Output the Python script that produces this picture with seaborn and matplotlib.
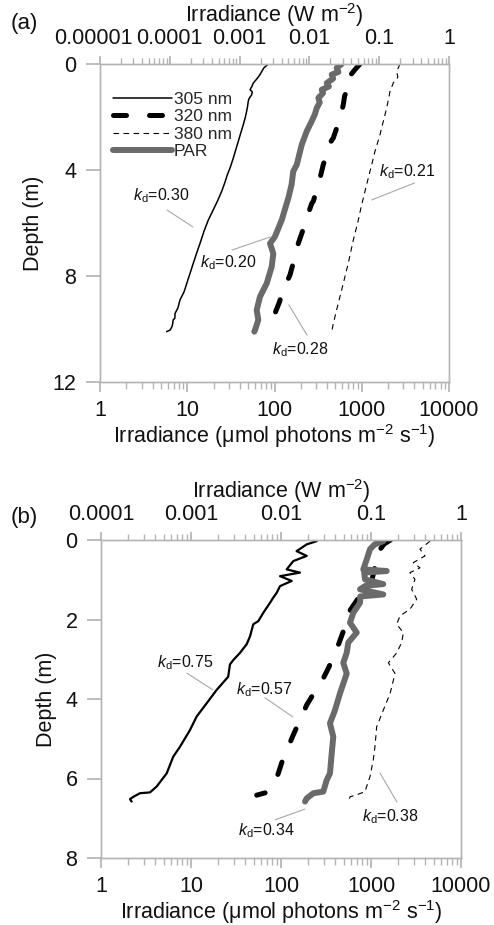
import matplotlib
matplotlib.use("Agg")
import matplotlib.pyplot as plt
import matplotlib.ticker as mticker
import matplotlib.transforms as mtransforms
import seaborn as sns

# ---------------- data ----------------
# Panel (a) : UV in W m-2 (top axis), PAR in umol photons m-2 s-1 (bottom axis)
a305_depth = [0, 0.15, 0.4, 0.55, 0.72, 0.85, 0.97, 1.05, 1.16, 1.3, 1.41, 1.6, 1.79, 2.0,
              2.29, 2.6, 2.92, 3.2, 3.55, 3.9, 4.18, 4.5, 4.8, 5.13, 5.5, 5.89, 6.3, 6.77,
              7.1, 7.52, 7.9, 8.28, 8.6, 8.9, 9.2, 9.41, 9.6, 9.65, 9.79, 9.9, 10.04, 10.1]
a305_irr = [0.00258, 0.00222, 0.00196, 0.00178, 0.00157, 0.00150, 0.00141, 0.00152, 0.00149,
            0.00137, 0.00133, 0.00130, 0.00126, 0.00121, 0.00113, 0.00104, 0.000957, 0.000890,
            0.000812, 0.000735, 0.000667, 0.000610, 0.000555, 0.000490, 0.000420, 0.000356,
            0.000310, 0.000271, 0.000245, 0.000217, 0.000195, 0.000175, 0.000160, 0.000140,
            0.000131, 0.000119, 0.000118, 0.000112, 0.000110, 0.000108, 0.000101, 0.0000903]

a320_depth = [0, 0.21, 0.45, 0.65, 0.9, 1.2, 1.53, 1.79, 2.3, 2.79, 2.98, 3.4, 3.8, 4.3, 4.75,
              5.18, 5.26, 5.82, 6.3, 6.77, 7.27, 7.96, 8.53, 9.0, 9.41, 9.96]
a320_irr = [0.0531, 0.0450, 0.0380, 0.0342, 0.0360, 0.0320, 0.0306, 0.0290, 0.0255, 0.0220,
            0.0197, 0.0178, 0.0158, 0.0142, 0.0127, 0.01138, 0.0108, 0.00914, 0.0080, 0.00693,
            0.00622, 0.00527, 0.00423, 0.0037, 0.00321, 0.00273]

a380_depth = [0, 0.28, 0.5, 0.7, 1.03, 1.66, 2.16, 2.67, 3.29, 3.8, 4.3, 5.06, 5.5, 5.89, 6.64,
              7.52, 8.28, 9.03, 9.79, 10.1]
a380_irr = [0.1986, 0.178, 0.185, 0.160, 0.143, 0.128, 0.1146, 0.1026, 0.0871, 0.0781, 0.0698,
            0.0592, 0.054, 0.0502, 0.0426, 0.0360, 0.0306, 0.0259, 0.0220, 0.0209]

aPAR_depth = [0, 0.15, 0.3, 0.4, 0.55, 0.72, 0.85, 0.97, 1.1, 1.28, 1.45, 1.66, 1.9, 2.16, 2.54,
              3.05, 3.55, 3.8, 4.05, 4.55, 5.06, 5.26, 5.89, 6.52, 6.77, 7.15, 7.65, 8.28,
              8.78, 9.28, 9.66, 10.04, 10.1]
aPAR_irr = [589, 516, 540, 453, 470, 397, 420, 348, 360, 318, 330, 305, 290, 267, 234,
            205, 188, 180, 164, 157, 144, 138, 121, 101, 88.8, 96.9, 92.9, 81.4,
            68.2, 62.5, 65.2, 59.8, 58.7]

# Panel (b)
b305_depth = [0.03, 0.11, 0.28, 0.4, 0.53, 0.74, 0.82, 0.91, 1.03, 1.16, 1.33, 1.45, 1.58, 1.83,
              2.04, 2.12, 2.42, 2.62, 2.84, 3.02, 3.13, 3.44, 3.77, 4.11, 4.44, 4.78, 5.2, 5.45,
              5.87, 6.2, 6.35, 6.37, 6.46, 6.52, 6.58]
b305_irr = [0.0249, 0.0193, 0.0149, 0.0193, 0.0137, 0.01156, 0.01625, 0.00975, 0.01315, 0.00975,
            0.00895, 0.0082, 0.00755, 0.00636, 0.0056, 0.00492, 0.00453, 0.00416, 0.0035,
            0.00295, 0.00271, 0.00259, 0.00193, 0.00149, 0.001156, 0.000975, 0.000755,
            0.000635, 0.000537, 0.000416, 0.00035, 0.000271, 0.000229, 0.00021, 0.000219]

b320_depth = [0.0, 0.1, 0.3, 0.5, 0.7, 1.0, 1.4, 1.77, 2.05, 2.3, 2.6, 2.94, 3.2, 3.48, 3.8,
              4.15, 4.5, 4.9, 5.25, 5.6, 5.87, 6.1, 6.35, 6.42]
b320_irr = [0.165, 0.14, 0.12, 0.126, 0.11, 0.1026, 0.0755, 0.0585, 0.054, 0.0492, 0.044,
            0.0381, 0.034, 0.0295, 0.024, 0.0193, 0.0165, 0.0137, 0.0118, 0.0102, 0.00933,
            0.0085, 0.00693, 0.00537]

b380_depth = [0.03, 0.23, 0.4, 0.57, 0.7, 0.82, 0.99, 1.24, 1.49, 1.74, 1.91, 2.12, 2.33, 2.58,
              2.84, 3.09, 3.36, 3.86, 4.28, 4.7, 5.2, 5.53, 5.95, 6.2, 6.33, 6.41, 6.46, 6.58]
b380_irr = [0.453, 0.350, 0.398, 0.295, 0.350, 0.271, 0.308, 0.283, 0.322, 0.271, 0.210, 0.193,
            0.229, 0.219, 0.193, 0.156, 0.185, 0.163, 0.137, 0.1156, 0.1107, 0.106, 0.0975,
            0.0895, 0.0857, 0.0694, 0.0585, 0.056]

bPAR_depth = [0.03, 0.11, 0.23, 0.49, 0.74, 0.78, 0.82, 0.99, 1.11, 1.15, 1.24, 1.37, 1.42, 1.58,
              1.83, 2.08, 2.33, 2.58, 2.84, 3.09, 3.36, 3.86, 4.28, 4.61, 4.95, 5.37, 5.87,
              6.04, 6.33, 6.37, 6.5, 6.58]
bPAR_irr = [1370, 1100, 975, 896, 821, 1494, 840, 858, 1370, 870, 755, 1370, 760, 755,
            636, 584, 694, 559, 537, 492, 537, 452, 398, 350, 381, 366, 350,
            322, 295, 229, 193, 185]

series_labels = ["305 nm", "320 nm", "380 nm", "PAR"]

top_ticks_a = [0.00001, 0.0001, 0.001, 0.01, 0.1, 1]
top_labels_a = ["0.00001", "0.0001", "0.001", "0.01", "0.1", "1"]
top_ticks_b = [0.0001, 0.001, 0.01, 0.1, 1]
top_labels_b = ["0.0001", "0.001", "0.01", "0.1", "1"]
bottom_ticks = [1, 10, 100, 1000, 10000]
bottom_labels = ["1", "10", "100", "1000", "10000"]
depth_ticks_a = [0, 4, 8, 12]
depth_ticks_b = [0, 2, 4, 6, 8]

kd_a = ["0.30", "0.20", "0.21", "0.28"]
kd_b = ["0.75", "0.57", "0.34", "0.38"]

# ---------------- style ----------------
sns.set_theme(style="white")
plt.rcParams["font.family"] = ["Liberation Sans", "DejaVu Sans"]
plt.rcParams["mathtext.fontset"] = "custom"
plt.rcParams["mathtext.rm"] = "Liberation Sans"
plt.rcParams["mathtext.it"] = "Liberation Sans:italic"
plt.rcParams["mathtext.bf"] = "Liberation Sans:bold"

GRAY = "#b4b4b4"
TXT = "#111111"
PARC = "#6a6a6a"
FS = 15.5

W, H = 494, 925
fig = plt.figure(figsize=(W / 100, H / 100), dpi=100)


def rect(l, r, t, b):
    return [l / W, 1 - b / H, (r - l) / W, (b - t) / H]


def panel(rc, uvlim, uvticks, uvlabels, dmax, dticks, data, lw305):
    ax_uv = fig.add_axes(rc)
    ax_par = ax_uv.twiny()
    (d305, v305), (d320, v320), (d380, v380), (dpar, vpar) = data

    sns.lineplot(x=v305, y=d305, sort=False, estimator=None, ax=ax_uv,
                 color="black", lw=lw305)
    h305 = ax_uv.lines[-1]
    sns.lineplot(x=v320, y=d320, sort=False, estimator=None, ax=ax_uv,
                 color="black", lw=3.6, linestyle=(0, (2.6, 4.6)))
    h320 = ax_uv.lines[-1]
    h320.set_dash_capstyle("round")
    sns.lineplot(x=v380, y=d380, sort=False, estimator=None, ax=ax_uv,
                 color="black", lw=0.8, linestyle=(0, (5, 4)))
    h380 = ax_uv.lines[-1]
    sns.lineplot(x=vpar, y=dpar, sort=False, estimator=None, ax=ax_par,
                 color=PARC, lw=4.3)
    hpar = ax_par.lines[-1]
    hpar.set_solid_capstyle("round")
    hpar.set_solid_joinstyle("round")

    for ax in (ax_uv, ax_par):
        ax.set_xscale("log")
        if ax.get_legend() is not None:
            ax.get_legend().remove()
        for sp in ax.spines.values():
            sp.set_color(GRAY)
            sp.set_linewidth(1.0)
            sp.set_visible(True)

    ax_uv.set_xlim(*uvlim)
    ax_par.set_xlim(1, 10000)
    ax_uv.set_ylim(dmax, 0)

    # top axis (W m-2)
    ax_uv.xaxis.tick_top()
    ax_uv.xaxis.set_label_position("top")
    ax_uv.xaxis.set_major_locator(mticker.FixedLocator(uvticks))
    ax_uv.xaxis.set_major_formatter(mticker.FixedFormatter(uvlabels))
    ax_uv.xaxis.set_minor_locator(mticker.LogLocator(base=10, subs=range(2, 10), numticks=50))
    ax_uv.xaxis.set_minor_formatter(mticker.NullFormatter())
    ax_uv.tick_params(axis="x", which="major", top=True, bottom=False, direction="out",
                      length=6, color=GRAY, labelsize=FS, labelcolor=TXT, pad=5)
    ax_uv.tick_params(axis="x", which="minor", top=True, bottom=False, direction="out",
                      length=4, color=GRAY)
    ax_uv.set_xlabel("Irradiance (W m$^{-2}$)", fontsize=FS, color=TXT, labelpad=4)

    # bottom axis (umol photons)
    ax_par.xaxis.tick_bottom()
    ax_par.xaxis.set_label_position("bottom")
    ax_par.xaxis.set_major_locator(mticker.FixedLocator(bottom_ticks))
    ax_par.xaxis.set_major_formatter(mticker.FixedFormatter(bottom_labels))
    ax_par.xaxis.set_minor_locator(mticker.LogLocator(base=10, subs=range(2, 10), numticks=50))
    ax_par.xaxis.set_minor_formatter(mticker.NullFormatter())
    ax_par.tick_params(axis="x", which="major", bottom=True, top=False, direction="out",
                       length=7, color=GRAY, labelsize=FS, labelcolor=TXT, pad=6)
    ax_par.tick_params(axis="x", which="minor", bottom=True, top=False, direction="out",
                       length=5, color=GRAY)
    ax_par.set_xlabel("Irradiance (\u03bcmol photons m$^{-2}$ s$^{-1}$)", fontsize=FS,
                      color=TXT, labelpad=1)

    # depth axis
    ax_uv.set_yticks(dticks)
    ax_uv.set_yticklabels([str(t) for t in dticks])
    ax_uv.tick_params(axis="y", which="major", left=True, right=False, direction="out",
                      length=10, color=GRAY, labelsize=FS, labelcolor=TXT, pad=7)
    ax_uv.set_ylabel("Depth (m)", fontsize=FS, color=TXT)
    ax_par.set_ylim(dmax, 0)
    return ax_uv, ax_par, [h305, h320, h380, hpar]


axA_uv, axA_par, handles = panel(rect(100, 449, 64, 382), (1e-5, 1), top_ticks_a, top_labels_a,
                                 12, depth_ticks_a,
                                 [(a305_depth, a305_irr), (a320_depth, a320_irr),
                                  (a380_depth, a380_irr), (aPAR_depth, aPAR_irr)], 1.1)
axB_uv, axB_par, _ = panel(rect(101, 461, 540, 858), (1e-4, 1), top_ticks_b, top_labels_b,
                           8, depth_ticks_b,
                           [(b305_depth, b305_irr), (b320_depth, b320_irr),
                            (b380_depth, b380_irr), (bPAR_depth, bPAR_irr)], 1.6)

# y-label placement
axA_uv.yaxis.set_label_coords((44 - 100) / 349, 0.5)
axB_uv.yaxis.set_label_coords((57 - 101) / 360, 0.5)

# first top label of panel (a) sits slightly left of its tick
shift = mtransforms.ScaledTranslation(-7 / 100, 0, fig.dpi_scale_trans)
first_tick = axA_uv.xaxis.get_major_ticks()[0]
first_tick.label2.set_transform(first_tick.label2.get_transform() + shift)

axA_par.legend(handles, series_labels, loc="upper left", bbox_to_anchor=(0.037, 0.913),
               frameon=False, fontsize=12.5, handlelength=3.4, handletextpad=0.12,
               labelspacing=0.13, borderaxespad=0, borderpad=0)

# k_d annotations (positions in bottom-axis coordinates)
LEAD = dict(arrowstyle="-", color="#a8a8a8", lw=0.8, shrinkA=0, shrinkB=0)
KFS = 11.5


def kd(ax, label, txy, p1, p2):
    ax.text(txy[0], txy[1], r"$k_{\mathrm{d}}$=" + label, fontsize=KFS, color=TXT,
            ha="center", va="center")
    ax.annotate("", xy=p2, xytext=p1, arrowprops=LEAD)


kd(axA_par, kd_a[0], (5.07, 4.98), (5.87, 5.51), (11.6, 6.15))
kd(axA_par, kd_a[1], (29.3, 7.51), (32.6, 7.02), (88.8, 6.53))
kd(axA_par, kd_a[2], (3345, 4.08), (4030, 4.49), (1298, 5.13))
kd(axA_par, kd_a[3], (196, 10.79), (236, 10.23), (146, 9.09))

kd(axB_par, kd_b[0], (8.58, 3.09), (9.0, 3.35), (17.5, 3.77))
kd(axB_par, kd_b[1], (64.7, 3.77), (66.4, 3.97), (135, 4.45))
kd(axB_par, kd_b[2], (69, 7.32), (85.8, 7.04), (184, 6.77))
kd(axB_par, kd_b[3], (1626, 6.97), (1940, 6.59), (1257, 5.86))

fig.text(24 / W, 1 - 23 / H, "(a)", fontsize=16, color=TXT, ha="center", va="center")
fig.text(24 / W, 1 - 517 / H, "(b)", fontsize=16, color=TXT, ha="center", va="center")

fig.savefig("out.png", dpi=100, facecolor="white")
